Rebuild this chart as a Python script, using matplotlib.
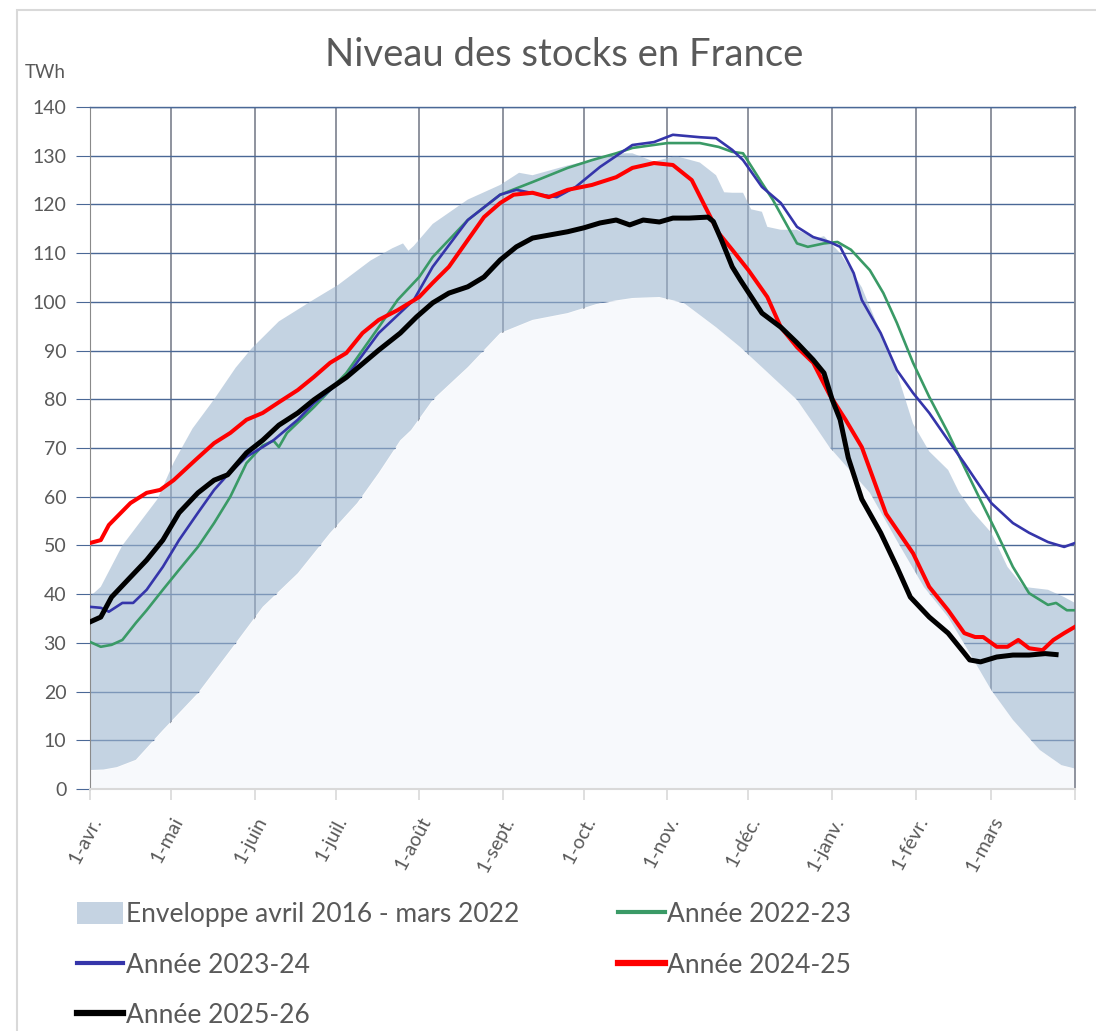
import matplotlib.pyplot as plt
from matplotlib.patches import Patch, Rectangle
from matplotlib.lines import Line2D

plt.rcParams['font.family'] = ['Lato', 'DejaVu Sans']

# jours depuis le 1er avril
month_days = [0, 30, 61, 91, 122, 153, 183, 214, 244, 275, 306, 334, 365]
month_labels = ['1-avr.', '1-mai', '1-juin', '1-juil.', '1-août', '1-sept.',
                '1-oct.', '1-nov.', '1-déc.', '1-janv.', '1-févr.', '1-mars', '']

env_max_days = [0, 4, 12, 25, 31, 38, 46, 54, 60, 70, 83, 92, 104, 112, 116, 118, 120,
                127, 140, 152, 159, 164, 177, 189, 196, 201, 209, 216, 218, 226, 232,
                235, 238, 242, 245, 249, 251, 256, 262, 269, 272, 278, 286, 292, 299,
                305, 311, 318, 322, 327, 334, 340, 346, 355, 361, 365]
env_max = [39.5, 41.5, 50, 59.5, 67, 74, 80, 86.5, 90.5, 96, 100.5, 103.5, 108.5, 111,
           112, 110.5, 111.5, 116, 121, 124, 126.5, 126, 128, 129.5, 130.5, 130.5,
           128.8, 129.8, 129.8, 128.6, 126, 122.5, 122.4, 122.4, 119, 118.5, 115.4,
           114.8, 114.8, 113, 113.5, 110, 103, 95, 85.5, 75, 69.3, 65.5, 61, 57,
           52.6, 45.6, 41.5, 40.9, 39.4, 38.2]

env_min_days = [0, 5, 10, 17, 27, 40, 52, 64, 77, 89, 99, 107, 115, 119, 127, 140, 152,
                164, 177, 189, 201, 211, 220, 232, 241, 249, 262, 269, 274, 289, 299,
                309, 318, 326, 334, 342, 352, 360, 365]
env_min = [3.9, 4.0, 4.5, 6, 12.1, 19.7, 28.5, 37.4, 44.3, 52.6, 58.7, 64.9, 71.6, 73.7,
           79.9, 86.6, 93.6, 96.3, 97.7, 99.8, 100.8, 101, 99.8, 94.8, 90.7, 86.6,
           79.9, 74.3, 70.2, 60.8, 51, 41.5, 35.3, 27.9, 20.3, 14.2, 8, 4.9, 4.2]

g_days = [0, 4, 8, 12, 17, 21, 27, 33, 40, 46, 52, 58, 64, 68, 70, 73, 83, 95, 101,
          107, 114, 122, 127, 140, 152, 164, 177, 186, 195, 201, 214, 226, 233, 238,
          242, 249, 253, 262, 266, 272, 277, 282, 289, 294, 299, 305, 311, 318, 324,
          330, 336, 342, 348, 355, 358, 362, 365]
g_vals = [30.2, 29.2, 29.6, 30.6, 34.1, 36.7, 40.9, 45, 49.7, 54.6, 60, 66.9, 70.5,
          71.5, 70.2, 73.1, 78.4, 85.4, 90.1, 94.8, 100.4, 105.1, 109.2, 116.8, 122,
          124.6, 127.5, 129.1, 130.5, 131.6, 132.6, 132.6, 131.8, 130.8, 130.5, 124.4,
          121, 112, 111.3, 112, 112.3, 110.7, 106.5, 101.8, 95.7, 87.5, 80.5, 73.1,
          66.1, 59.3, 52.6, 45.6, 40.2, 37.8, 38.2, 36.7, 36.7]

b_days = [0, 4, 7, 12, 16, 21, 27, 33, 40, 46, 51, 58, 64, 68, 77, 83, 95, 107, 120,
          127, 140, 152, 158, 167, 173, 180, 189, 201, 209, 216, 226, 232, 238, 242,
          249, 256, 262, 268, 274, 278, 283, 286, 293, 299, 305, 311, 318, 324, 334,
          342, 348, 355, 361, 365]
b_vals = [37.4, 37.2, 36.4, 38.2, 38.2, 40.9, 45.6, 51.1, 56.7, 61.4, 64.5, 68.2, 70.2,
          71.6, 75.8, 79.2, 84.6, 93.6, 100.4, 107.2, 116.8, 122, 123, 122, 121.5,
          123.6, 127.7, 132.2, 132.8, 134.3, 133.8, 133.6, 131.2, 129.1, 123.6, 120.3,
          115.4, 113.3, 112.3, 111.3, 105.9, 100.4, 93.6, 86, 81.3, 77.2, 71.6, 66.9,
          58.7, 54.6, 52.6, 50.7, 49.7, 50.5]

r_days = [0, 4, 7, 15, 21, 26, 31, 39, 46, 52, 58, 64, 70, 77, 83, 89, 95, 101, 107,
          114, 122, 127, 133, 140, 146, 152, 157, 164, 170, 177, 186, 195, 201, 209,
          216, 223, 228, 233, 238, 244, 251, 256, 262, 268, 274, 280, 286, 295, 305,
          311, 318, 324, 328, 331, 336, 340, 344, 348, 353, 357, 361, 365]
r_vals = [50.5, 51.1, 54.2, 58.7, 60.8, 61.4, 63.4, 67.5, 71, 73.1, 75.8, 77.2, 79.4,
          81.9, 84.6, 87.5, 89.5, 93.6, 96.3, 98.3, 101, 103.9, 107.2, 112.7, 117.4,
          120.3, 122, 122.4, 121.5, 123, 124, 125.6, 127.5, 128.5, 128.1, 125, 119.5,
          114.1, 110.7, 106.5, 101, 94.8, 90.7, 87.5, 81, 75.8, 70.2, 56.5, 48.4, 41.5,
          36.7, 32, 31.2, 31.2, 29.2, 29.2, 30.6, 28.9, 28.5, 30.6, 32, 33.3]

k_days = [0, 4, 8, 15, 21, 27, 33, 40, 46, 51, 58, 64, 70, 77, 83, 95, 107, 115, 121,
          127, 133, 140, 146, 152, 158, 164, 170, 177, 183, 189, 195, 200, 205, 211,
          216, 222, 229, 231, 234, 238, 241, 249, 256, 262, 268, 272, 275, 278, 281,
          286, 293, 299, 304, 311, 318, 324, 326, 330, 336, 342, 348, 354, 358]
k_vals = [34.3, 35.3, 39.4, 43.5, 47, 51.1, 56.7, 60.8, 63.4, 64.5, 69, 71.6, 74.7,
          77.2, 79.9, 84.5, 90.1, 93.6, 96.9, 99.8, 101.8, 103.1, 105.1, 108.6, 111.3,
          113.1, 113.7, 114.4, 115.2, 116.2, 116.8, 115.8, 116.8, 116.4, 117.2, 117.2,
          117.4, 116.5, 112.7, 107.2, 104.5, 97.7, 94.8, 91.6, 88.1, 85.4, 80, 75.8,
          68, 59.5, 52.6, 45.6, 39.4, 35.3, 32, 27.9, 26.5, 26.1, 27.1, 27.5, 27.5,
          27.8, 27.6]

txt = '#595959'
fig = plt.figure(figsize=(10.96, 10.31), dpi=100)
fig.patches.append(Rectangle((17 / 1096, -0.1), 1.2, 1.1 - 10 / 1031, transform=fig.transFigure,
                             fill=False, edgecolor='#d9d9d9', linewidth=1.5))
ax = fig.add_axes([0.0821, 0.2347, 0.8987, 0.6615])

ax.fill_between(env_min_days, 0, env_min, color='#f7f9fc', zorder=2, linewidth=0)
ax.fill(env_max_days + env_min_days[::-1], env_max + env_min[::-1],
        color='#9eb6cf', alpha=0.6, zorder=2, linewidth=0)

ax.plot(g_days, g_vals, color='#3a9a66', lw=1.9, zorder=4)
ax.plot(b_days, b_vals, color='#3535aa', lw=1.9, zorder=4)
ax.plot(r_days, r_vals, color='#ff0000', lw=2.9, zorder=5)
ax.plot(k_days, k_vals, color='#000000', lw=3.6, zorder=6)

ax.set_xlim(0, 365)
ax.set_ylim(0, 140)
ax.set_yticks(range(0, 141, 10))
ax.set_xticks(month_days)
ax.set_xticklabels(month_labels, rotation=62, ha='right', va='top', rotation_mode='anchor')
for lab in ax.get_xticklabels():
    lab.set_y(-0.012)
ax.tick_params(axis='y', length=10, color='#4a6896', labelsize=14, labelcolor=txt, pad=7)
ax.tick_params(axis='x', length=8, color='#d9d9d9', width=1.2, labelsize=14,
               labelcolor=txt, pad=4)
ax.grid(axis='y', color='#4a6896', lw=1.0, zorder=1)
ax.grid(axis='x', color='#868a96', lw=1.3, zorder=1)
ax.set_axisbelow(True)
ax.spines['top'].set_color('#4a6896')
ax.spines['top'].set_linewidth(1.0)
ax.spines['left'].set_color('#8a8a8a')
ax.spines['right'].set_color('#868a96')
ax.spines['right'].set_linewidth(1.3)
ax.spines['bottom'].set_color('#d9d9d9')
ax.spines['bottom'].set_linewidth(1.5)

fig.text(0.515, 1 - 55 / 1031, 'Niveau des stocks en France', ha='center', va='center',
         fontsize=27.5, color=txt)
fig.text(25 / 1096, 1 - 72 / 1031, 'TWh', ha='left', va='center', fontsize=13.5, color=txt)

handles = [Patch(facecolor='#c5d3e2', edgecolor='none'),
           Line2D([], [], color='#3535aa', lw=3),
           Line2D([], [], color='#000000', lw=4.5),
           Line2D([], [], color='#3a9a66', lw=3),
           Line2D([], [], color='#ff0000', lw=4.5)]
labels = ['Enveloppe avril 2016 - mars 2022', 'Année 2023-24', 'Année 2025-26',
          'Année 2022-23', 'Année 2024-25']
leg = fig.legend(handles, labels, loc='upper left', bbox_to_anchor=(72 / 1096, 1 - 897 / 1031),
                 ncol=2, frameon=False, fontsize=19, labelcolor=txt, handlelength=1.75,
                 handleheight=0.9, handletextpad=0.1, columnspacing=3.75, labelspacing=0.96,
                 borderaxespad=0, borderpad=0.2)

plt.savefig('out.png', dpi=100)
